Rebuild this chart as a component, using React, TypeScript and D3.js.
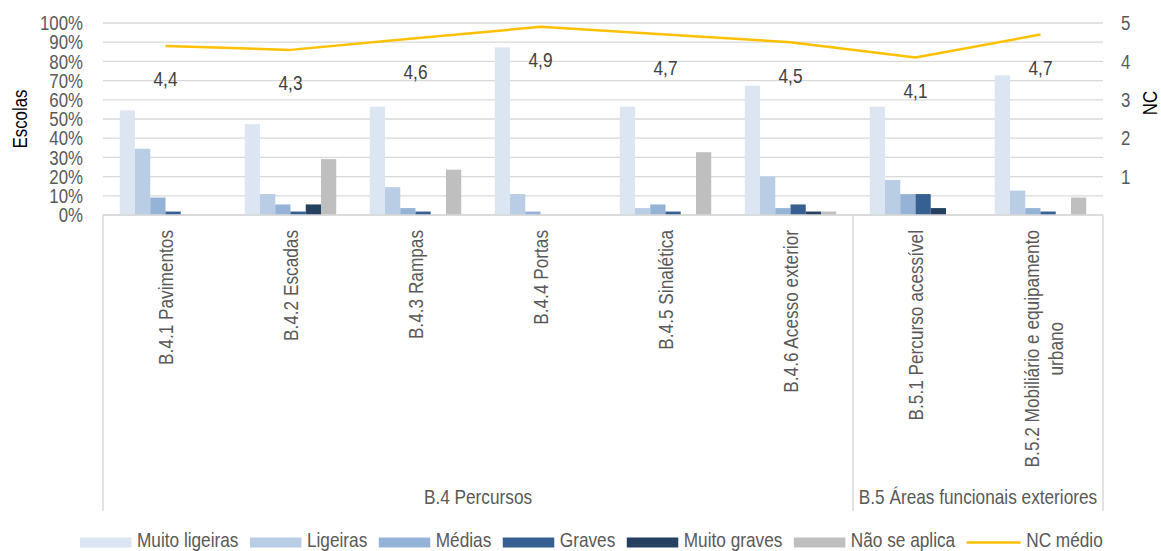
import React, { useEffect, useRef } from "react";
import * as d3 from "d3";

const categories = [
  "B.4.1 Pavimentos",
  "B.4.2 Escadas",
  "B.4.3 Rampas",
  "B.4.4 Portas",
  "B.4.5 Sinalética",
  "B.4.6 Acesso exterior",
  "B.5.1 Percurso acessível",
  "B.5.2 Mobiliário e equipamento\nurbano",
];
const groups = [
  { name: "B.4 Percursos", from: 0, to: 5 },
  { name: "B.5 Áreas funcionais exteriores", from: 6, to: 7 },
];
const seriesNames = ["Muito ligeiras", "Ligeiras", "Médias", "Graves", "Muito graves", "Não se aplica"];
const seriesColors = ["#dce6f2", "#b9cde5", "#95b3d7", "#376092", "#254061", "#bfbfbf"];
// percentages of schools
const muitoLigeiras = [54.5, 47.3, 56.4, 87.3, 56.4, 67.3, 56.4, 72.7];
const ligeiras = [34.5, 10.9, 14.5, 10.9, 3.6, 20.0, 18.2, 12.7];
const medias = [9.1, 5.5, 3.6, 1.8, 5.5, 3.6, 10.9, 3.6];
const graves = [1.8, 1.8, 1.8, 0, 1.8, 5.5, 10.9, 1.8];
const muitoGraves = [0, 5.5, 0, 0, 0, 1.8, 3.6, 0];
const naoSeAplica = [0, 29.1, 23.6, 0, 32.7, 1.8, 0, 9.1];
const ncMedio = [4.4, 4.3, 4.6, 4.9, 4.7, 4.5, 4.1, 4.7];
const leftTicks = [0, 10, 20, 30, 40, 50, 60, 70, 80, 90, 100];
const rightTicks = [1, 2, 3, 4, 5];
const lineName = "NC médio";
const lineColor = "#ffc000";

const FONT = "'Liberation Sans', Arial, sans-serif";
const TXT = "#595959";
const NARROW = 0.82;

function narrow(sel: any) {
  sel.each(function (this: SVGTextElement) {
    const len = this.getComputedTextLength();
    d3.select(this).attr("textLength", len * NARROW).attr("lengthAdjust", "spacingAndGlyphs");
  });
  return sel;
}

export default function App() {
  const ref = useRef<SVGSVGElement | null>(null);
  useEffect(() => {
    const svg = d3.select(ref.current);
    svg.selectAll("*").remove();
    const left = 103, right = 1103, top = 23, bottom = 215;
    const seriesData = [muitoLigeiras, ligeiras, medias, graves, muitoGraves, naoSeAplica];

    const x = d3.scaleBand<number>().domain(d3.range(categories.length)).range([left, right]);
    const xs = d3.scaleBand<number>().domain(d3.range(seriesNames.length)).range([0, x.bandwidth()]).paddingOuter(1.1);
    const y = d3.scaleLinear().domain([0, 100]).range([bottom, top]);
    const y2 = d3.scaleLinear().domain([0, 5]).range([bottom, top]);

    const g = svg.append("g").style("font-family", FONT);

    // gridlines
    g.selectAll(".grid").data(leftTicks).enter().append("line")
      .attr("x1", left).attr("x2", right)
      .attr("y1", (d) => y(d)).attr("y2", (d) => y(d))
      .attr("stroke", "#d9d9d9").attr("stroke-width", 1.3);

    // left tick labels
    narrow(g.selectAll(".lt").data(leftTicks).enter().append("text")
      .attr("x", 83).attr("y", (d) => y(d)).attr("dy", "0.35em")
      .attr("text-anchor", "end").attr("font-size", 20.5).attr("fill", TXT)
      .text((d) => d + "%"));
    // right tick labels
    narrow(g.selectAll(".rt").data(rightTicks).enter().append("text")
      .attr("x", 1121).attr("y", (d) => y2(d)).attr("dy", "0.35em")
      .attr("text-anchor", "start").attr("font-size", 20.5).attr("fill", TXT)
      .text((d) => String(d)));

    // axis titles
    narrow(g.append("text").attr("transform", `translate(20,119) rotate(-90)`).attr("dy", "0.35em")
      .attr("text-anchor", "middle").attr("font-size", 20.5).attr("fill", "#000").text("Escolas"));
    narrow(g.append("text").attr("transform", `translate(1150,103) rotate(-90)`).attr("dy", "0.35em")
      .attr("text-anchor", "middle").attr("font-size", 20.5).attr("fill", "#000").text("NC"));

    // bars
    seriesData.forEach((vals, si) => {
      g.append("g").selectAll("rect").data(vals).enter().append("rect")
        .attr("x", (_d, i) => (x(i) as number) + (xs(si) as number))
        .attr("width", xs.bandwidth())
        .attr("y", (d) => y(d))
        .attr("height", (d) => bottom - y(d))
        .attr("fill", seriesColors[si]);
    });

    // axis line and group separators
    g.append("line").attr("x1", left).attr("x2", right).attr("y1", bottom).attr("y2", bottom)
      .attr("stroke", "#d9d9d9").attr("stroke-width", 1.5);
    const sepX = [left, x(groups[1].from) as number, right];
    g.selectAll(".sep").data(sepX).enter().append("line")
      .attr("x1", (d) => d).attr("x2", (d) => d).attr("y1", bottom).attr("y2", 511)
      .attr("stroke", "#d9d9d9").attr("stroke-width", 1.5);

    // category labels
    categories.forEach((c, i) => {
      const lines = c.split("\n");
      const cx = (x(i) as number) + x.bandwidth() / 2;
      const lh = 24;
      const off = lines.length > 1 ? 3 : 0;
      const tg = g.append("g").attr("transform", `translate(${cx + off},230) rotate(-90)`);
      const first = tg.append("text").attr("x", 0)
        .attr("y", -((lines.length - 1) * lh) / 2).attr("dy", "0.35em")
        .attr("text-anchor", "end").attr("font-size", 21).attr("fill", TXT).text(lines[0]);
      const len = (first.node() as SVGTextElement).getComputedTextLength() * NARROW;
      narrow(first);
      lines.slice(1).forEach((ln, k) => {
        narrow(tg.append("text").attr("x", -len / 2)
          .attr("y", -((lines.length - 1) * lh) / 2 + (k + 1) * lh).attr("dy", "0.35em")
          .attr("text-anchor", "middle").attr("font-size", 21).attr("fill", TXT).text(ln));
      });
    });

    // group labels
    groups.forEach((gr) => {
      const x0 = x(gr.from) as number;
      const x1 = (x(gr.to) as number) + x.bandwidth();
      narrow(g.append("text").attr("x", (x0 + x1) / 2).attr("y", 497).attr("dy", "0.35em")
        .attr("text-anchor", "middle").attr("font-size", 21).attr("fill", TXT).text(gr.name));
    });

    // NC line
    const line = d3.line<number>()
      .x((_d, i) => (x(i) as number) + x.bandwidth() / 2)
      .y((d) => y2(d));
    g.append("path").datum(ncMedio).attr("d", line).attr("fill", "none")
      .attr("stroke", lineColor).attr("stroke-width", 2.5).attr("stroke-linejoin", "round");
    narrow(g.selectAll(".nclab").data(ncMedio).enter().append("text")
      .attr("x", (_d, i) => (x(i) as number) + x.bandwidth() / 2)
      .attr("y", (d) => y2(d) + 33).attr("dy", "0.35em")
      .attr("text-anchor", "middle").attr("font-size", 21).attr("fill", "#404040")
      .text((d) => d.toFixed(1).replace(".", ",")));

    // legend
    const lg = g.append("g");
    const items = [
      ...seriesNames.map((n, i) => ({ name: n, color: seriesColors[i], kind: "bar" })),
      { name: lineName, color: lineColor, kind: "line" },
    ];
    let cx = 80;
    const ly = 542.5;
    const baseline = 546.5;
    items.forEach((it) => {
      const sw = it.kind === "bar" ? 51.5 : 54;
      const sx = cx;
      if (it.kind === "bar") {
        lg.append("rect").attr("x", sx).attr("y", ly - 5).attr("width", sw).attr("height", 10).attr("fill", it.color);
      } else {
        lg.append("line").attr("x1", sx).attr("x2", sx + sw).attr("y1", ly).attr("y2", ly)
          .attr("stroke", it.color).attr("stroke-width", 2.5);
      }
      const t = lg.append("text").attr("x", sx + sw + 5.5).attr("y", baseline)
        .attr("font-size", 21).attr("fill", TXT).text(it.name);
      const tw = (t.node() as SVGTextElement).getComputedTextLength() * NARROW;
      narrow(t);
      cx = sx + sw + 5.5 + tw + 11.5;
    });
  }, []);
  return (
    <svg ref={ref} width={1161} height={551}
      style={{ position: "absolute", left: 0, top: 0, background: "#fff" }} />
  );
}
